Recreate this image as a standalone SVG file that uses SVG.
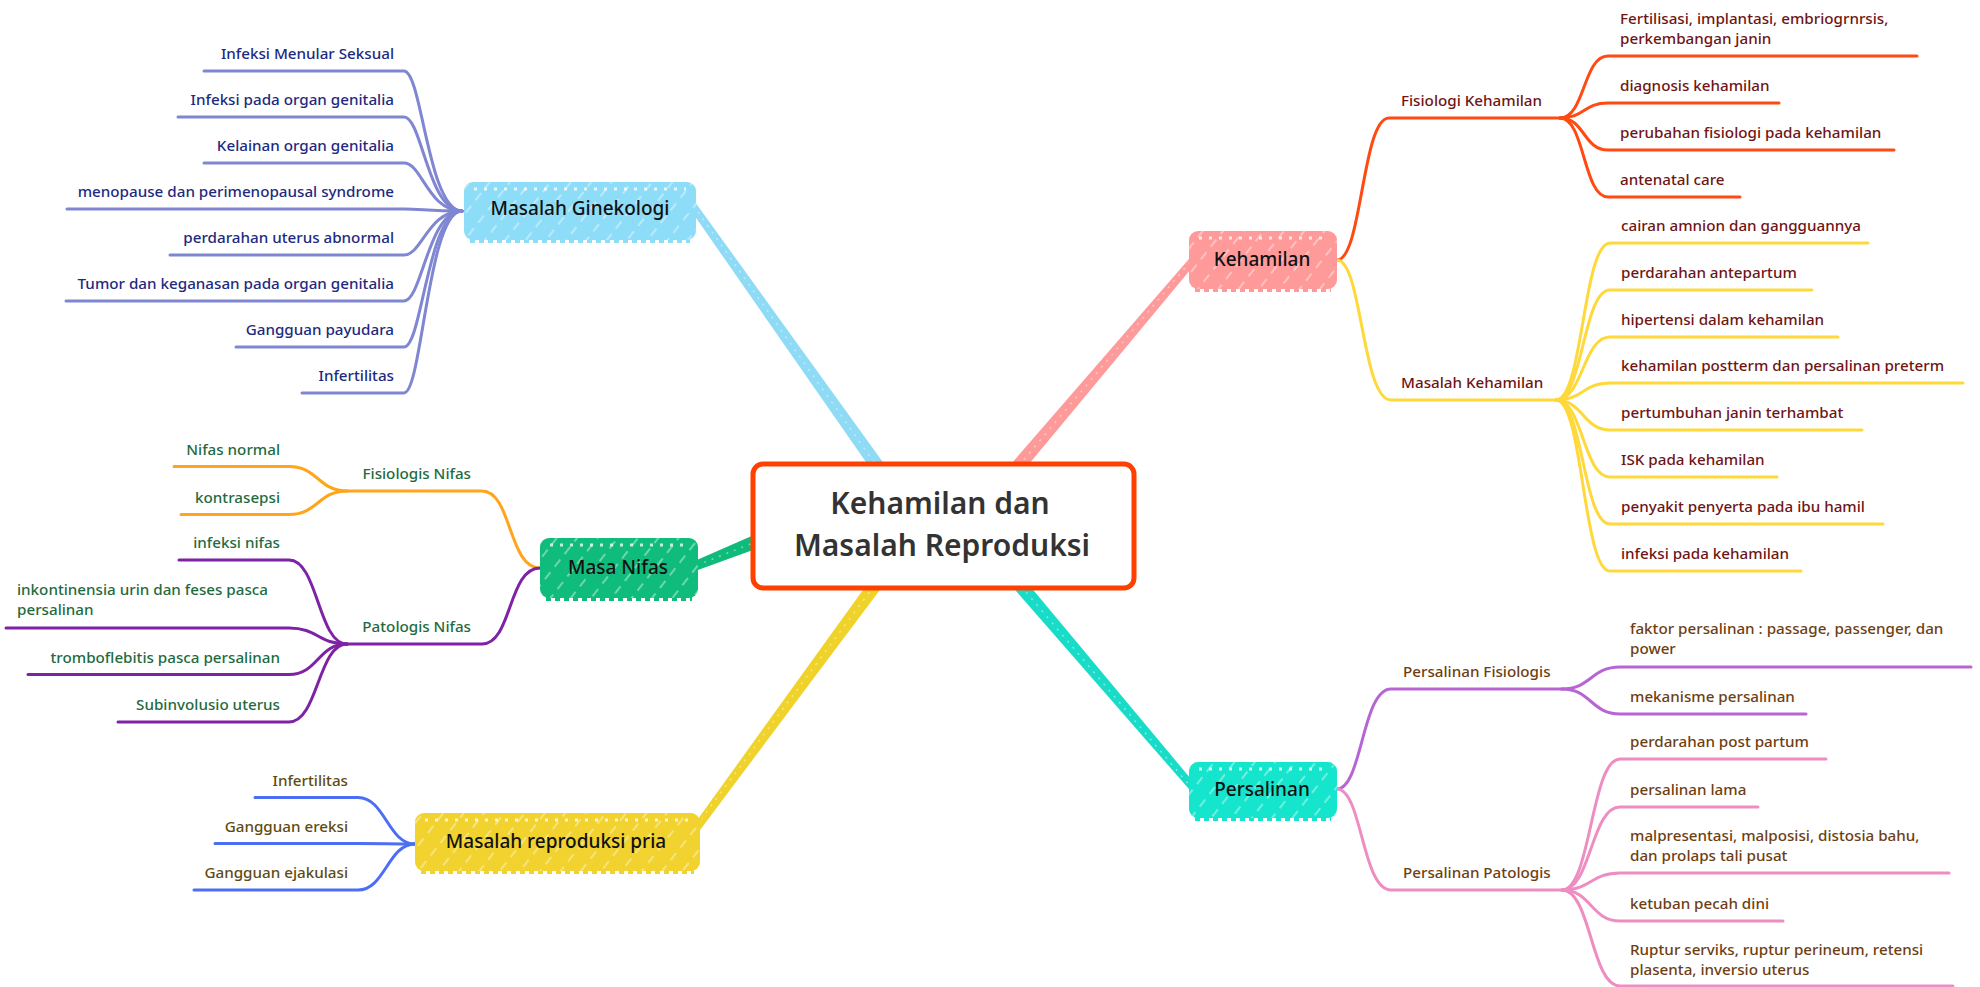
<svg xmlns="http://www.w3.org/2000/svg" width="1980" height="987" viewBox="0 0 1980 987">
<defs>
<pattern id="hatch" width="16" height="16" patternUnits="userSpaceOnUse" patternTransform="rotate(38)">
<line x1="2" y1="0" x2="2" y2="16" stroke="#ffffff" stroke-opacity="0.55" stroke-width="1.4" stroke-dasharray="9 7"/>
</pattern>
<style>
.bg{fill:#ffffff}
.sub{fill:none;stroke-width:3;stroke-linecap:round;stroke-linejoin:round}
.t{font-family:"Noto Sans","Liberation Sans",sans-serif;font-size:15.2px;font-weight:500}
.tl{text-anchor:end}
.nt{font-family:"Noto Sans","Liberation Sans",sans-serif;font-size:19px;font-weight:500;fill:#111;text-anchor:middle}
.ct{font-family:"Noto Sans","Liberation Sans",sans-serif;font-size:30px;font-weight:600;fill:#333;text-anchor:middle}
.hat{fill:url(#hatch)}
.dots{fill:none;stroke:#ffffff;stroke-opacity:0.75;stroke-width:3;stroke-dasharray:3 7}
.jag{fill:none;stroke-width:6;stroke-dasharray:5 4}
.tex{fill:none;stroke:#ffffff;stroke-opacity:0.45;stroke-width:1.5;stroke-dasharray:2 6}
.gin{stroke:#7F86D2}.ginT{fill:#1D2A80}
.fn{stroke:#FFA51C}.pn{stroke:#7E22A6}.nT{fill:#1F6B40}
.rp{stroke:#4C6EF5}.rT{fill:#5E4C12}
.fk{stroke:#FF4A12}.mk{stroke:#FFD83A}.kT{fill:#6E1515}
.pf{stroke:#B865D4}.pp{stroke:#EE8DC2}.pT{fill:#6E3E12}
</style>
</defs>
<rect class="bg" x="0" y="0" width="1980" height="987"/>

<g id="connectors">
<!-- main tapered branches -->
<polygon points="681.7,197.3 874.3,474.1 885.7,465.9 688.3,192.7" fill="#8FDBF5"/>
<polygon points="1198,260.6 1020.3,474.5 1009.7,465.5 1192,255.4" fill="#FF9A9A"/>
<polygon points="1014.7,589.5 1192,792.6 1198,787.4 1025.3,580.5" fill="#18DCC8"/>
<polygon points="880.6,589.1 698.2,832.4 691.8,827.6 869.4,580.9" fill="#F0D32A"/>
<polygon points="762.6,546.5 691.7,572.2 688.3,563.8 757.4,533.5" fill="#0FBB7A"/>
<line class="tex" x1="698" y1="212" x2="878" y2="468"/>
<line class="tex" x1="1190" y1="262" x2="1016" y2="469"/>
<line class="tex" x1="1021" y1="586" x2="1190" y2="786"/>
<line class="tex" x1="874" y1="586" x2="702" y2="818"/>
<line class="tex" x1="758" y1="541" x2="700" y2="564"/>

<!-- Masalah Ginekologi -->
<path class="sub gin" d="M204,71 L404,71 C422,71 428,211 462,211"/>
<path class="sub gin" d="M178,117 L404,117 C422,117 428,211 462,211"/>
<path class="sub gin" d="M204,163 L404,163 C422,163 428,211 462,211"/>
<path class="sub gin" d="M67,209 L404,209 C422,209 428,211 462,211"/>
<path class="sub gin" d="M170,255 L404,255 C422,255 428,211 462,211"/>
<path class="sub gin" d="M66,301 L404,301 C422,301 428,211 462,211"/>
<path class="sub gin" d="M236,347 L404,347 C422,347 428,211 462,211"/>
<path class="sub gin" d="M302,393 L404,393 C422,393 428,211 462,211"/>

<!-- Masa Nifas -->
<path class="sub fn" d="M347,491 L482,491 C512,491 508,568 540,568"/>
<path class="sub fn" d="M174,466.5 L289,466.5 C318,466.5 318,491 347,491"/>
<path class="sub fn" d="M181,514.5 L289,514.5 C318,514.5 318,491 347,491"/>
<path class="sub pn" d="M347,644 L482,644 C512,644 508,568 540,568"/>
<path class="sub pn" d="M179,560 L289,560 C318,560 318,644 347,644"/>
<path class="sub pn" d="M6,628 L289,628 C318,628 318,644 347,644"/>
<path class="sub pn" d="M28,674.5 L289,674.5 C318,674.5 318,644 347,644"/>
<path class="sub pn" d="M118,722 L289,722 C318,722 318,644 347,644"/>

<!-- Masalah reproduksi pria -->
<path class="sub rp" d="M255,797.5 L358,797.5 C385,797.5 388,844 415,844"/>
<path class="sub rp" d="M215,843.6 L358,843.6 C385,843.6 388,844 415,844"/>
<path class="sub rp" d="M194,890 L358,890 C385,890 388,844 415,844"/>

<!-- Kehamilan -->
<path class="sub fk" d="M1337,260 C1362,260 1362,118 1389,118 L1560,118"/>
<path class="sub fk" d="M1560,118 C1585,118 1583,56 1608,56 L1917,56"/>
<path class="sub fk" d="M1560,118 C1585,118 1583,103 1608,103 L1779,103"/>
<path class="sub fk" d="M1560,118 C1585,118 1583,150 1608,150 L1894,150"/>
<path class="sub fk" d="M1560,118 C1585,118 1583,197 1608,197 L1740,197"/>
<path class="sub mk" d="M1337,260 C1362,260 1362,400 1391,400 L1556,400"/>
<path class="sub mk" d="M1556,400 C1583,400 1583,243 1610,243 L1868,243"/>
<path class="sub mk" d="M1556,400 C1583,400 1583,290 1610,290 L1812,290"/>
<path class="sub mk" d="M1556,400 C1583,400 1583,337 1610,337 L1838,337"/>
<path class="sub mk" d="M1556,400 C1583,400 1583,383 1610,383 L1963,383"/>
<path class="sub mk" d="M1556,400 C1583,400 1583,430 1610,430 L1862,430"/>
<path class="sub mk" d="M1556,400 C1583,400 1583,477 1610,477 L1777,477"/>
<path class="sub mk" d="M1556,400 C1583,400 1583,524 1610,524 L1883,524"/>
<path class="sub mk" d="M1556,400 C1583,400 1583,571 1610,571 L1801,571"/>

<!-- Persalinan -->
<path class="sub pf" d="M1337,789 C1362,789 1362,689 1391,689 L1562,689"/>
<path class="sub pf" d="M1562,689 C1591,689 1591,667 1620,667 L1971,667"/>
<path class="sub pf" d="M1562,689 C1591,689 1591,714 1620,714 L1806,714"/>
<path class="sub pp" d="M1337,789 C1362,789 1362,890 1391,890 L1562,890"/>
<path class="sub pp" d="M1562,890 C1591,890 1591,759 1620,759 L1826,759"/>
<path class="sub pp" d="M1562,890 C1591,890 1591,807 1620,807 L1758,807"/>
<path class="sub pp" d="M1562,890 C1591,890 1591,873 1620,873 L1949,873"/>
<path class="sub pp" d="M1562,890 C1591,890 1591,921 1620,921 L1783,921"/>
<path class="sub pp" d="M1562,890 C1591,890 1591,986 1620,986 L1953,986"/>
</g>

<g id="central">
<rect x="753" y="464" width="381" height="124" rx="10" fill="#ffffff" stroke="#FF4000" stroke-width="5"/>
<text class="ct" x="940" y="514">Kehamilan dan</text>
<text class="ct" x="942" y="556">Masalah Reproduksi</text>
</g>

<g id="node-ginekologi">
<rect x="464" y="182" width="232" height="58" rx="9" fill="#8EDDF8"/>
<line class="jag" x1="470" y1="240" x2="690" y2="240" stroke="#8EDDF8"/>
<rect class="hat" x="464" y="182" width="232" height="58" rx="9"/>
<line class="dots" x1="474" y1="189" x2="686" y2="189"/>
<text class="nt" x="580" y="215">Masalah Ginekologi</text>
</g>

<g id="node-nifas">
<rect x="540" y="538" width="158" height="60" rx="9" fill="#10BC7C"/>
<line class="jag" x1="546" y1="598" x2="692" y2="598" stroke="#10BC7C"/>
<rect class="hat" x="540" y="538" width="158" height="60" rx="9"/>
<line class="dots" x1="550" y1="545" x2="688" y2="545"/>
<text class="nt" x="618" y="574">Masa Nifas</text>
</g>

<g id="node-pria">
<rect x="415" y="813" width="285" height="58" rx="9" fill="#F2D22E"/>
<line class="jag" x1="421" y1="871" x2="694" y2="871" stroke="#F2D22E"/>
<rect class="hat" x="415" y="813" width="285" height="58" rx="9"/>
<line class="dots" x1="425" y1="820" x2="690" y2="820"/>
<text class="nt" x="556" y="848">Masalah reproduksi pria</text>
</g>

<g id="node-kehamilan">
<rect x="1189" y="231" width="148" height="58" rx="9" fill="#FF9A9A"/>
<line class="jag" x1="1195" y1="289" x2="1331" y2="289" stroke="#FF9A9A"/>
<rect class="hat" x="1189" y="231" width="148" height="58" rx="9"/>
<line class="dots" x1="1199" y1="238" x2="1327" y2="238"/>
<text class="nt" x="1262" y="266">Kehamilan</text>
</g>

<g id="node-persalinan">
<rect x="1189" y="762" width="148" height="56" rx="9" fill="#14E5CC"/>
<line class="jag" x1="1195" y1="818" x2="1331" y2="818" stroke="#14E5CC"/>
<rect class="hat" x="1189" y="762" width="148" height="56" rx="9"/>
<line class="dots" x1="1199" y1="769" x2="1327" y2="769"/>
<text class="nt" x="1262" y="796">Persalinan</text>
</g>

<g id="labels-ginekologi" class="t tl ginT">
<text x="394" y="59">Infeksi Menular Seksual</text>
<text x="394" y="105">Infeksi pada organ genitalia</text>
<text x="394" y="151">Kelainan organ genitalia</text>
<text x="394" y="197">menopause dan perimenopausal syndrome</text>
<text x="394" y="243">perdarahan uterus abnormal</text>
<text x="394" y="289">Tumor dan keganasan pada organ genitalia</text>
<text x="394" y="335">Gangguan payudara</text>
<text x="394" y="381">Infertilitas</text>
</g>

<g id="labels-nifas" class="t nT">
<text class="tl" x="471" y="479">Fisiologis Nifas</text>
<text class="tl" x="280" y="454.5">Nifas normal</text>
<text class="tl" x="280" y="502.5">kontrasepsi</text>
<text class="tl" x="471" y="632">Patologis Nifas</text>
<text class="tl" x="280" y="548">infeksi nifas</text>
<text x="17" y="595">inkontinensia urin dan feses pasca</text>
<text x="17" y="615">persalinan</text>
<text class="tl" x="280" y="662.5">tromboflebitis pasca persalinan</text>
<text class="tl" x="280" y="710">Subinvolusio uterus</text>
</g>

<g id="labels-pria" class="t tl rT">
<text x="348" y="785.5">Infertilitas</text>
<text x="348" y="831.6">Gangguan ereksi</text>
<text x="348" y="878">Gangguan ejakulasi</text>
</g>

<g id="labels-kehamilan" class="t kT">
<text x="1401" y="106">Fisiologi Kehamilan</text>
<text x="1620" y="24">Fertilisasi, implantasi, embriogrnrsis,</text>
<text x="1620" y="44">perkembangan janin</text>
<text x="1620" y="91">diagnosis kehamilan</text>
<text x="1620" y="138">perubahan fisiologi pada kehamilan</text>
<text x="1620" y="185">antenatal care</text>
<text x="1401" y="388">Masalah Kehamilan</text>
<text x="1621" y="231">cairan amnion dan gangguannya</text>
<text x="1621" y="278">perdarahan antepartum</text>
<text x="1621" y="325">hipertensi dalam kehamilan</text>
<text x="1621" y="371">kehamilan postterm dan persalinan preterm</text>
<text x="1621" y="418">pertumbuhan janin terhambat</text>
<text x="1621" y="465">ISK pada kehamilan</text>
<text x="1621" y="512">penyakit penyerta pada ibu hamil</text>
<text x="1621" y="559">infeksi pada kehamilan</text>
</g>

<g id="labels-persalinan" class="t pT">
<text x="1403" y="677">Persalinan Fisiologis</text>
<text x="1630" y="634">faktor persalinan : passage, passenger, dan</text>
<text x="1630" y="654">power</text>
<text x="1630" y="702">mekanisme persalinan</text>
<text x="1403" y="878">Persalinan Patologis</text>
<text x="1630" y="747">perdarahan post partum</text>
<text x="1630" y="795">persalinan lama</text>
<text x="1630" y="841">malpresentasi, malposisi, distosia bahu,</text>
<text x="1630" y="861">dan prolaps tali pusat</text>
<text x="1630" y="909">ketuban pecah dini</text>
<text x="1630" y="955">Ruptur serviks, ruptur perineum, retensi</text>
<text x="1630" y="975">plasenta, inversio uterus</text>
</g>
</svg>
